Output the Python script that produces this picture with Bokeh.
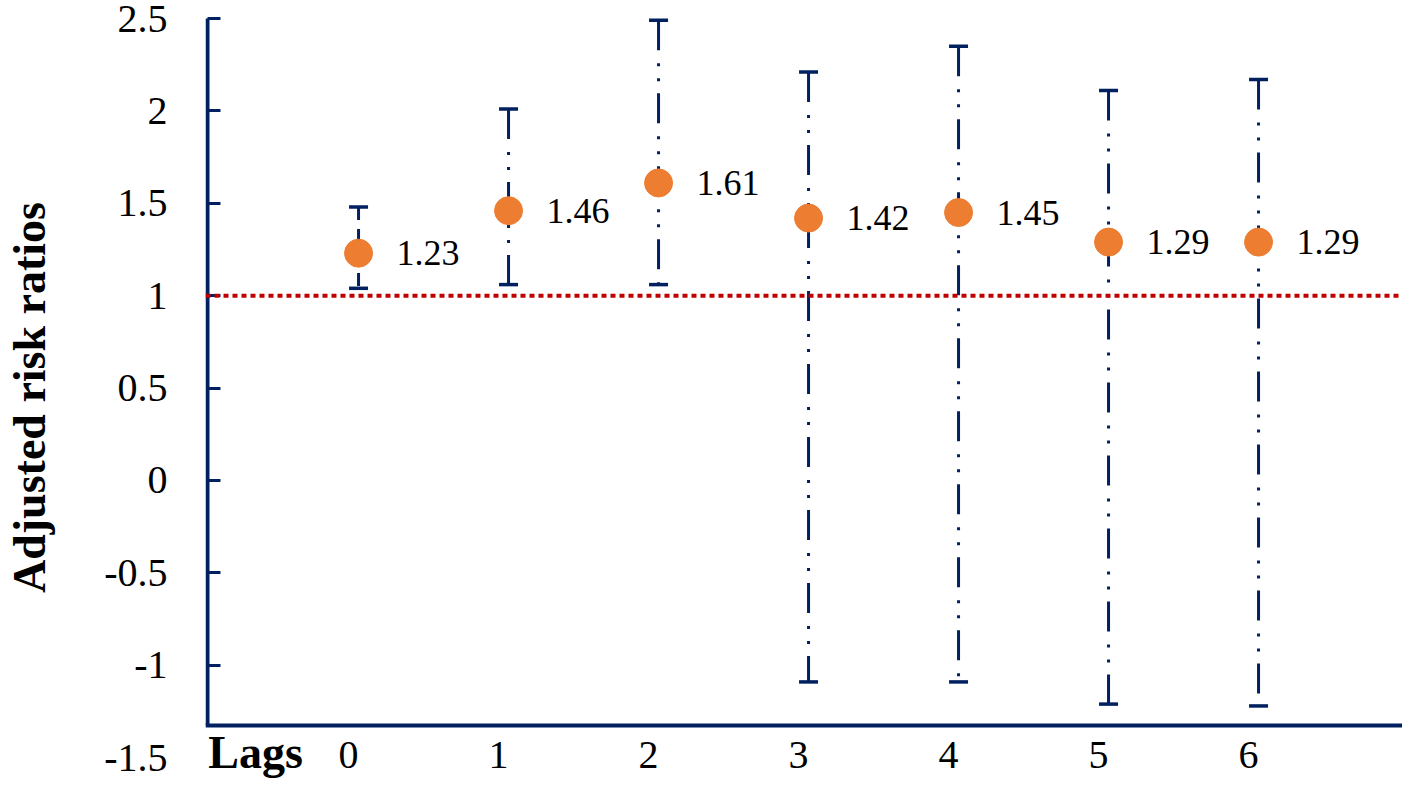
from bokeh.plotting import figure
from bokeh.models import (ColumnDataSource, FixedTicker, Span, Label, CDSView, IndexFilter,
                          LinearAxis)
from bokeh.transform import dodge
from bokeh.core.properties import value
from bokeh.embed import file_html
from bokeh.resources import INLINE

# ---- data ----
lags = [0, 1, 2, 3, 4, 5, 6]
risk_ratio = [1.23, 1.46, 1.61, 1.42, 1.45, 1.29, 1.29]
ci_lower = [1.04, 1.06, 1.06, -1.09, -1.09, -1.21, -1.22]
ci_upper = [1.48, 2.01, 2.49, 2.21, 2.35, 2.11, 2.17]
x_tick_labels = ["0", "1", "2", "3", "4", "5", "6"]
y_ticks = [-1, -0.5, 0, 0.5, 1, 1.5, 2, 2.5]
y_tick_labels = ["-1", "-0.5", "0", "0.5", "1", "1.5", "2", "2.5"]
extra_y_tick = -1.5
extra_y_tick_label = "-1.5"
axis_floor = -1.325        # where the category axis crosses the value axis
axis_top = 2.5
reference_value = 1
x_axis_name = "Lags"
y_axis_name = "Adjusted risk ratios"

NAVY = "#002060"
ORANGE = "#ED7D31"
RED = "#C00000"
FONT = "Liberation Serif"

src = ColumnDataSource(dict(
    lag=lags, rr=risk_ratio, lo=ci_lower, hi=ci_upper,
    lbl=[f"{v:.2f}" for v in risk_ratio],
))

X_START = -0.9533
p = figure(width=1402, height=778, output_backend="svg", toolbar_location=None,
           x_range=(X_START, 7.0267), y_range=(-1.6126, 2.5108),
           min_border_left=205, min_border_right=0, min_border_top=16, min_border_bottom=0)
p.outline_line_color = None
p.grid.visible = False
p.background_fill_color = "white"
p.border_fill_color = "white"

xpos = dodge("lag", 0.067, range=p.x_range)

# error bar stems
view_dash = CDSView(filter=IndexFilter([0]))
view_dd = CDSView(filter=IndexFilter([1, 2, 3, 4, 5, 6]))
p.segment(x0=xpos, y0="hi", x1=xpos, y1="lo", source=src, view=view_dash,
          line_color=NAVY, line_width=3, line_dash="13 9")
p.segment(x0=xpos, y0="hi", x1=xpos, y1="lo", source=src, view=view_dd,
          line_color=NAVY, line_width=3, line_dash="30 13 3 12 3 12")
# caps
p.scatter(x=xpos, y="hi", source=src, marker="dash", size=19, line_color=NAVY, line_width=3.5)
p.scatter(x=xpos, y="lo", source=src, marker="dash", size=19, line_color=NAVY, line_width=3.5)

# reference line
p.add_layout(Span(location=reference_value, dimension="width", line_color=RED,
                  line_width=4, line_dash="5 4"))

# points
p.scatter(x=xpos, y="rr", source=src, marker="circle", size=28,
          fill_color=ORANGE, line_color=ORANGE)
p.text(x=xpos, y="rr", text="lbl", source=src, x_offset=38,
       text_font=value(FONT), text_font_size="36px", text_color="black",
       text_align="left", text_baseline="middle")

# ---- x axis: drawn where it crosses the value axis ----
xa = p.xaxis[0]
xa.fixed_location = axis_floor
xa.ticker = FixedTicker(ticks=lags)
xa.major_label_overrides = {l: t for l, t in zip(lags, x_tick_labels)}
xa.axis_line_color = NAVY
xa.axis_line_width = 4
xa.major_tick_line_color = None
xa.minor_tick_line_color = None
xa.major_tick_out = 0
xa.major_tick_in = 0
xa.major_label_standoff = 17
xa.major_label_text_font = FONT
xa.major_label_text_font_size = "40px"
xa.major_label_text_color = "black"

# ---- y axis labels + title (no line, no ticks) ----
ya = p.yaxis[0]
ya.ticker = FixedTicker(ticks=[extra_y_tick] + y_ticks)
ya.major_label_overrides = {t: s for t, s in zip([extra_y_tick] + y_ticks,
                                                 [extra_y_tick_label] + y_tick_labels)}
ya.axis_line_color = None
ya.major_tick_line_color = None
ya.minor_tick_line_color = None
ya.major_tick_in = 0
ya.major_tick_out = 0
ya.major_label_standoff = 38
ya.major_label_text_font = FONT
ya.major_label_text_font_size = "40px"
ya.major_label_text_color = "black"
ya.axis_label = y_axis_name
ya.axis_label_text_font = FONT
ya.axis_label_text_font_style = "bold"
ya.axis_label_text_font_size = "46px"
ya.axis_label_text_color = "black"
ya.axis_label_standoff = 46

# ---- y axis line + inward ticks, bounded to the plotted span ----
ya_line = LinearAxis(fixed_location=-0.94, bounds=(axis_floor, axis_top),
                     ticker=FixedTicker(ticks=y_ticks),
                     major_label_overrides={t: "" for t in y_ticks},
                     major_label_standoff=0,
                     axis_line_color=NAVY, axis_line_width=4,
                     major_tick_line_color=NAVY, major_tick_line_width=3,
                     major_tick_in=13, major_tick_out=0,
                     minor_tick_line_color=None)
p.add_layout(ya_line, "left")

# x-axis name, placed in frame pixels (from the frame's lower-left corner)
p.add_layout(Label(x=50, y=26, x_units="screen", y_units="screen",
                   text=x_axis_name,
                   text_font=FONT, text_font_size="46px", text_font_style="bold",
                   text_color="black", text_align="center", text_baseline="middle"))

open("out.html", "w").write(file_html(p, INLINE))
